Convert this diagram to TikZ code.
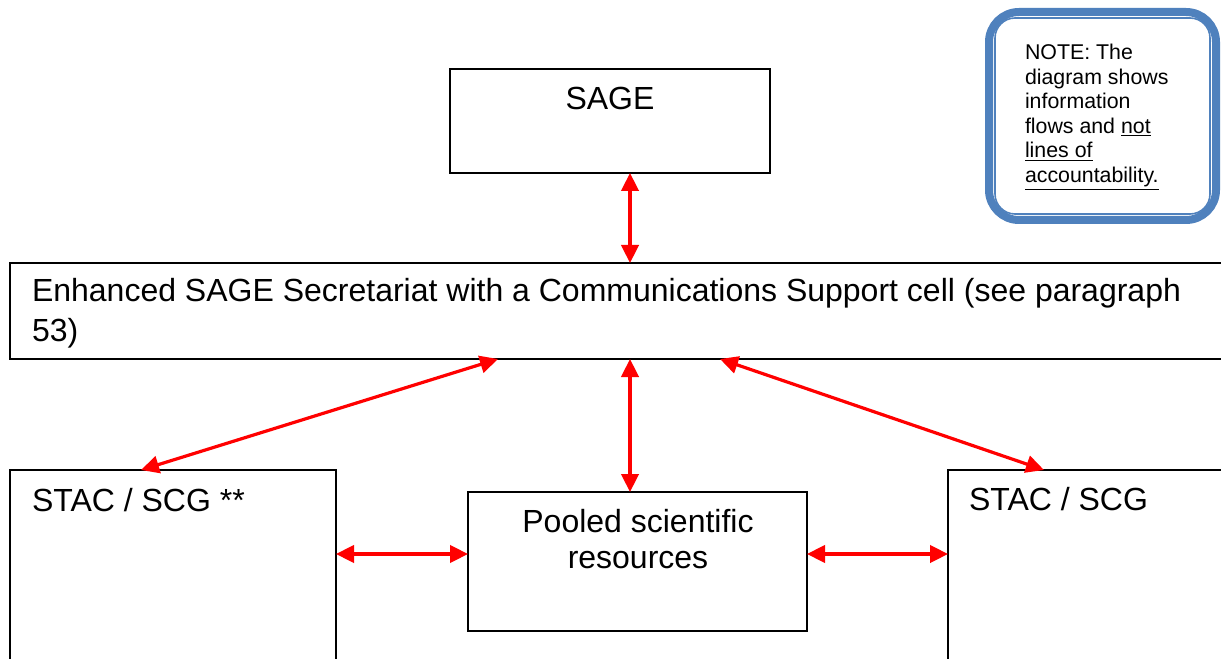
\documentclass[tikz,border=0pt]{standalone}
\usepackage{fontspec}
\setmainfont{Liberation Sans}
\usetikzlibrary{arrows.meta}
\definecolor{noteblue}{RGB}{79,129,189}
\definecolor{arrred}{RGB}{255,0,0}
\begin{document}
\begin{tikzpicture}[x=0.75pt,y=-0.75pt,
  box/.style={draw=black, line width=1.5pt, inner sep=0pt, outer sep=0pt},
  arr/.style={draw=arrred, line width=2.4pt,
    {Triangle[length=13.5pt,width=13pt]}-{Triangle[length=13.5pt,width=13pt]}},
  txt/.style={inner sep=0pt, outer sep=0pt, font=\fontsize{24}{28}\selectfont},
  notetxt/.style={inner sep=0pt, outer sep=0pt, anchor=base west, font=\fontsize{16}{18}\selectfont}]
\useasboundingbox (0,0) rectangle (1221,659);
\clip (0,0) rectangle (1221,659);
\fill[white] (0,0) rectangle (1221,659);

% boxes
\node[box, minimum width=240pt, minimum height=78pt] (sage) at (610,121) {};
\node[txt, anchor=base] (sagetxt) at (610,110) {SAGE};

\node[box, minimum width=922.5pt, minimum height=72pt] (ess) at (625,311) {};
\node[txt, anchor=base west] (esstxt1) at (32,302) {Enhanced SAGE Secretariat with a Communications Support cell (see paragraph};
\node[txt, anchor=base west] (esstxt2) at (32,341) {53)};

\node[box, minimum width=244.5pt, minimum height=172.5pt] (stacl) at (173,585) {};
\node[txt, anchor=base west] (stacltxt) at (32,511) {STAC / SCG **};

\node[box, minimum width=254.25pt, minimum height=104.25pt] (pool) at (637.5,561.5) {};
\node[txt, anchor=base] (pooltxt1) at (638,532) {Pooled scientific};
\node[txt, anchor=base] (pooltxt2) at (638,568) {resources};

\node[box, minimum width=226.5pt, minimum height=172.5pt] (stacr) at (1099,585) {};
\node[txt, anchor=base west] (stacrtxt) at (969,510) {STAC / SCG};

% note
\node[draw=noteblue, line width=6pt, rounded corners=22.5pt, inner sep=0pt,
      minimum width=170.25pt, minimum height=156pt] (note) at (1102.5,116) {};
\draw[noteblue, line width=1.2pt, rounded corners=15pt]
  ([xshift=7.5pt,yshift=-7.5pt]note.north west) rectangle ([xshift=-7.5pt,yshift=7.5pt]note.south east);
\node[notetxt] (n1) at (1025,60) {NOTE: The};
\node[notetxt] (n2) at (1025,84.5) {diagram shows};
\node[notetxt] (n3) at (1025,109) {information};
\node[notetxt] (n4) at (1025,133.5) {flows and \underline{not}};
\node[notetxt] (n5) at (1025,158) {\underline{lines of}};
\node[notetxt] (n6) at (1025,182.5) {\underline{accountability.}};

% connectors
\coordinate (c1) at (630,0);
\coordinate (c2) at (498,0);
\coordinate (c3) at (141,0);
\coordinate (c4) at (720,0);
\coordinate (c5) at (1044,0);
\coordinate (r1) at (0,554);
\draw[arr] (sage.south -| c1) -- (ess.north -| c1);
\draw[arr] (ess.south -| c1) -- (pool.north -| c1);
\draw[arr] (ess.south -| c2) -- (stacl.north -| c3);
\draw[arr] (ess.south -| c4) -- (stacr.north -| c5);
\draw[arr] (stacl.east |- r1) -- (pool.west |- r1);
\draw[arr] (pool.east |- r1) -- (stacr.west |- r1);
\end{tikzpicture}
\end{document}
